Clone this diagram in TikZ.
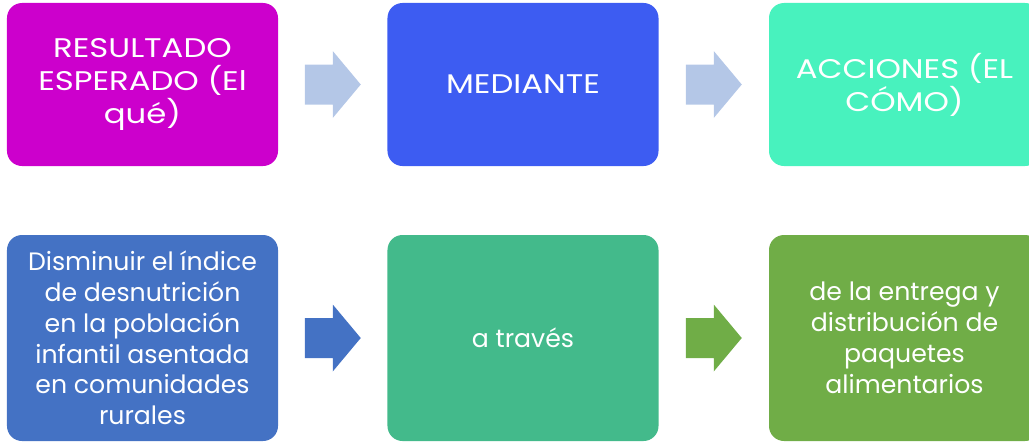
\documentclass[tikz,border=0pt]{standalone}
\usepackage{fontspec}
\setmainfont{Poppins}
\newfontfamily\widefont{Poppins}[FakeStretch=1.2]
\usetikzlibrary{calc}
\definecolor{magenta}{HTML}{CC00CC}
\definecolor{royal}{HTML}{3D5CF2}
\definecolor{aqua}{HTML}{48F2BE}
\definecolor{steel}{HTML}{4472C4}
\definecolor{jade}{HTML}{43BA8B}
\definecolor{leaf}{HTML}{70AD47}
\definecolor{pale}{HTML}{B4C7E7}

\begin{document}
\begin{tikzpicture}[x=0.03cm, y=-0.03cm,
  box/.style={rectangle, rounded corners=0.45cm, inner sep=0pt, text=white,
    align=center, minimum width=8.13cm},
  topbox/.style={box, minimum height=4.89cm, font=\widefont\fontsize{23}{28.2}\selectfont},
  lowbox/.style={box, minimum height=6.18cm, font=\fontsize{21.5}{26.3}\selectfont},
  pics/blockarrow/.style={code={
    \fill[#1] (-28,-20) -- (0,-20) -- (0,-33.5) -- (28,0) -- (0,33.5)
      -- (0,20) -- (-28,20) -- cycle;}}]
  \useasboundingbox (0,0) rectangle (1029,442);

  % Top row
  \node[topbox, fill=magenta] (res) at (142.5,84.5) {RESULTADO\\ESPERADO (El\\qué)};
  \node[topbox, fill=royal] (med) at (523,84.5) {MEDIANTE};
  \node[topbox, fill=aqua] (acc) at (904.5,84.5) {ACCIONES (EL\\CÓMO)};

  % Bottom row
  \node[lowbox, fill=steel] (dis) at (142.5,338) {Disminuir el índice\\de desnutrición\\en la población\\infantil asentada\\en comunidades\\rurales};
  \node[lowbox, fill=jade] (tra) at (523,338) {a través};
  \node[lowbox, fill=leaf] (ent) at (904.5,338) {de la entrega y\\distribución de\\paquetes\\alimentarios};

  % Arrows between boxes
  \coordinate (ar1) at ($(res.east)!0.5!(med.west)$);
  \coordinate (ar2) at ($(med.east)!0.5!(acc.west)$);
  \coordinate (ar3) at ($(dis.east)!0.5!(tra.west)$);
  \coordinate (ar4) at ($(tra.east)!0.5!(ent.west)$);
  \pic at (ar1) {blockarrow=pale};
  \pic at (ar2) {blockarrow=pale};
  \pic at (ar3) {blockarrow=steel};
  \pic at (ar4) {blockarrow=leaf};

\end{tikzpicture}
\end{document}
